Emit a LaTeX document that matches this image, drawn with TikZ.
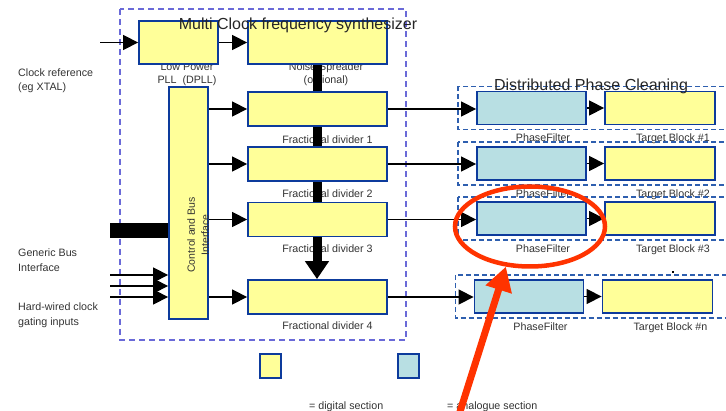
\documentclass[tikz,border=0pt]{standalone}
\usepackage{fontspec}
\setmainfont{Liberation Sans}
\usetikzlibrary{arrows.meta,shapes.geometric,backgrounds}
\definecolor{digfill}{HTML}{FFFF99}
\definecolor{anafill}{HTML}{B8DFE3}
\definecolor{boxline}{HTML}{0D3B9C}
\definecolor{synthdash}{HTML}{6A6AD8}
\definecolor{cleandash}{HTML}{2E5FAF}
\definecolor{markred}{HTML}{FF3300}
\definecolor{inkgray}{HTML}{333333}

\begin{document}
\begin{tikzpicture}[x=1pt,y=-1pt,>={Triangle[length=15pt,width=15pt]},
  blk/.style={draw=boxline, line width=1.8pt, inner sep=0pt},
  digital/.style={blk, fill=digfill},
  analog/.style={blk, fill=anafill},
  lbl/.style={font=\fontsize{10.7}{13}\selectfont, text=inkgray, inner sep=0pt},
  bigtitle/.style={font=\fontsize{16}{19}\selectfont, text=black!85, inner sep=0pt},
  sig/.style={->, line width=1.4pt},
  grp/.style={draw=cleandash, line width=1.2pt, dash pattern=on 5pt off 3pt}]
\useasboundingbox (0,0) rectangle (726,411);

% synthesizer part
\draw[draw=synthdash, line width=1.2pt, dash pattern=on 6pt off 4pt] (120,9) rectangle (406,340);
\node[digital, minimum width=79pt, minimum height=43pt] (pll) at (178.5,42.5) {};
\node[digital, minimum width=139pt, minimum height=43pt] (ns) at (317.5,42.5) {};
\node[digital, minimum width=39pt, minimum height=232pt] (ctrl) at (188.5,203) {};
\foreach \i/\y in {1/109,2/164,3/219.5,4/297}
  \node[digital, minimum width=139pt, minimum height=34pt] (fd\i) at (317.5,\y) {};

\begin{scope}[on background layer]
\node[lbl, align=center] (plllbl) at (187,74.5) {Low Power\\PLL\ \ (DPLL)};
\node[lbl, align=center] (nslbl) at (326,74.5) {Noise Spreader\\(optional)};
\foreach \i/\y in {1/144,2/197.5,3/253,4/330}
  \node[lbl, anchor=base] (fd\i lbl) at (327.5,\y) {Fractional divider \i};
\draw[line width=9pt, -{Triangle[length=18pt,width=23pt]}] (ns.south -| 317,0) -- (fd4.north -| 317,0);
\end{scope}

\node[lbl, align=center, rotate=90, font=\fontsize{10.5}{14}\selectfont] (ctrllbl) at (198,235) {Control and Bus\\Interface};
\node[bigtitle, anchor=base] (synthtitle) at (298,29.3) {Multi Clock frequency synthesizer};

% inputs
\node[lbl, align=left, anchor=west, font=\fontsize{10.7}{14.5}\selectfont] (clklbl) at (18,80.5) {Clock reference\\(eg XTAL)};
\node[lbl, align=left, anchor=west, font=\fontsize{10.7}{14.5}\selectfont] (buslbl) at (18,260) {Generic Bus\\Interface};
\node[lbl, align=left, anchor=west, font=\fontsize{10.7}{14.5}\selectfont] (gatelbl) at (18,315) {Hard-wired clock\\gating inputs};
\coordinate (clkin) at (100,42.5);
\coordinate (busin) at (110,230.5);
\draw[sig] (clkin) -- (pll.west);
\draw[sig] (pll.east) -- (ns.west);
\draw[line width=15pt] (busin) -- (ctrl.west |- busin);
\foreach \y [count=\k] in {275,286,297} {
  \coordinate (gate\k) at (110,\y);
  \draw[sig] (gate\k) -- (ctrl.west |- gate\k);
}
\foreach \i in {1,...,4}
  \draw[sig] (ctrl.east |- fd\i.west) -- (fd\i.west);

% distributed phase cleaning
\foreach \i/\xo/\y/\n in {1/0/108/1,2/0/163.5/2,3/0/218.5/3,4/-2.5/296.5/n} {
  \draw[grp] (458+\xo,\y-21.5) rectangle (740,\y+21.5);
  \node[analog, minimum width=109pt, minimum height=33pt] (pf\i) at (531.5+\xo,\y) {};
  \node[digital, minimum width=110pt, minimum height=33pt] (tb\i) at (660+\xo,\y) {};
  \draw[sig] (pf\i.east) -- (tb\i.west);
  \node[lbl, anchor=base] (pf\i lbl) at (543+\xo,\y+34) {PhaseFilter};
  \node[lbl, anchor=base] (tb\i lbl) at (673+\xo,\y+34) {Target Block \#\n};
}
\foreach \i in {1,...,4}
  \draw[sig] (fd\i.east) -- (fd\i.east -| pf\i.west);
\node[bigtitle, anchor=base] (cleantitle) at (591,90.5) {Distributed Phase Cleaning};
\fill (672,271) rectangle (674,273);

% legend
\node[digital, minimum width=21pt, minimum height=24pt] (lgdig) at (270.5,366) {};
\node[analog, minimum width=21pt, minimum height=24pt] (lgana) at (408.5,366) {};
\node[lbl, anchor=base west] (lgdiglbl) at (309,410) {= digital section};
\node[lbl, anchor=base west] (lganalbl) at (447,410) {= analogue section};

% highlight
\node[ellipse, draw=markred, line width=4.5pt, minimum width=150pt, minimum height=80pt, inner sep=0pt] (hl) at (530,226.5) {};
\coordinate (redtail) at (458,418);
\draw[markred, line width=7pt, -{Triangle[length=24pt,width=26pt]}] (redtail) -- (hl.-121);
\end{tikzpicture}
\end{document}
